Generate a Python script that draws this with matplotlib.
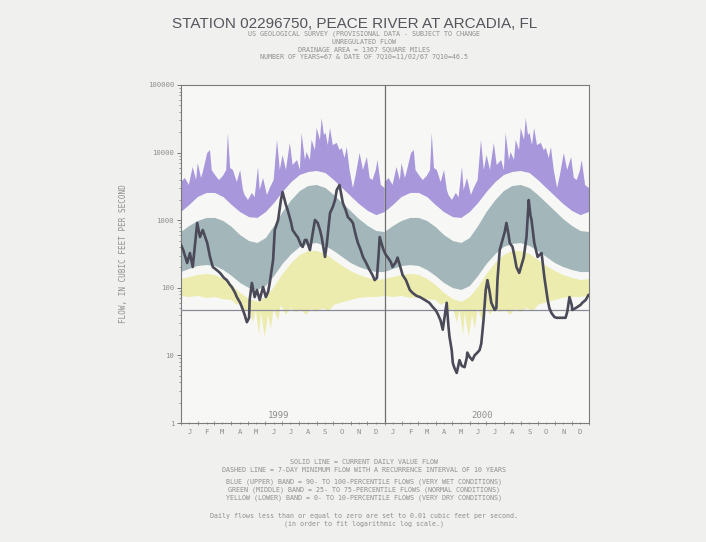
import numpy as np
import pandas as pd
import matplotlib
matplotlib.use('Agg')
import matplotlib.pyplot as plt
import matplotlib.dates as mdates
from matplotlib.ticker import LogLocator, NullFormatter

# duration-style percentile bands, day of year (same climatology drawn for each year)
clim_day = [0, 15, 30, 46, 61, 76, 91, 106, 122, 137, 152, 167, 182,
            198, 213, 228, 243, 259, 274, 289, 304, 319, 335, 350, 365]
p90 = [1320, 1680, 2200, 2530, 2530, 2200, 1680, 1320, 1110, 1080, 1320, 1800, 2610,
       3670, 4660, 5160, 5350, 4990, 3930, 2990, 2280, 1740, 1370, 1190, 1320]
p75 = [669, 821, 973, 1080, 1080, 973, 793, 604, 492, 460, 545, 821, 1320,
       1990, 2700, 3200, 3320, 2990, 2360, 1800, 1370, 1040, 821, 692, 669]
p25 = [171, 190, 210, 217, 210, 183, 150, 118, 99, 93, 106, 150, 225,
       316, 402, 445, 460, 415, 350, 286, 233, 203, 183, 171, 171]
p10 = [135, 144, 155, 160, 155, 135, 110, 84, 68, 62, 73, 103, 160,
       233, 306, 350, 350, 316, 258, 210, 177, 155, 140, 130, 135]

# daily maximum of record (top of blue band)
max_day = [0, 7, 14, 21, 27, 30, 36, 39, 47, 52, 55, 61, 68, 75, 81, 84, 88, 93, 100,
           106, 111, 114, 120, 127, 132, 138, 141, 147, 154, 159, 166, 172, 177, 182,
           188, 195, 200, 208, 213, 216, 222, 225, 231, 234, 240, 243, 249, 252, 256,
           259, 263, 267, 272, 279, 284, 288, 293, 297, 302, 308, 313, 320, 326, 333,
           338, 343, 349, 352, 358, 365]
max_flow = [3670, 4210, 3320, 6130, 3930, 7020, 4210, 5160, 9870, 10900, 5530, 4660,
            3930, 4510, 5530, 19500, 5920, 5530, 3670, 5530, 2800, 2360, 1990, 2530,
            2200, 6130, 2800, 4210, 2360, 2990, 3930, 15400, 5530, 9210, 5530, 13900,
            6550, 7780, 5530, 19500, 7780, 10200, 7780, 15400, 10900, 23100, 15400,
            32500, 18200, 19500, 12900, 23100, 12900, 13900, 10900, 11700, 8320, 12100,
            5530, 2990, 4660, 9870, 5530, 8610, 4210, 3930, 5530, 7780, 3320, 2990]

# daily minimum of record (bottom of yellow band)
min_day = [0, 14, 30, 45, 61, 75, 91, 100, 107, 114, 122, 129, 134, 140, 143, 150,
           156, 161, 166, 174, 179, 188, 197, 206, 215, 224, 233, 243, 254, 265, 274,
           286, 304, 318, 335, 349, 365]
min_flow = [76, 73, 76, 71, 73, 68, 66, 56, 60, 44, 50, 31, 47, 20, 44, 19, 40, 25, 50,
            33, 56, 40, 50, 44, 47, 40, 49, 44, 50, 45, 56, 60, 66, 71, 73, 73, 76]

# current daily flow, days since 1999-01-01
flow_day = [0, 4, 11, 16, 21, 29, 34, 39, 47, 52, 57, 64, 70, 77, 82, 88, 91, 97, 100,
            106, 109, 114, 118, 122, 123, 127, 132, 136, 141, 147, 152, 156, 159, 165,
            168, 174, 179, 182, 188, 191, 197, 200, 206, 209, 215, 218, 222, 225, 231,
            234, 240, 245, 249, 252, 258, 261, 267, 272, 276, 279, 284, 290, 295, 299,
            304, 308, 313, 317, 322, 326, 331, 338, 343, 347, 351, 354, 356, 360, 363,
            367, 370, 376, 379, 385, 388, 392, 397, 403, 410, 415, 422, 428, 437, 445,
            451, 456, 460, 465, 469, 472, 476, 479, 481, 485, 487, 490, 494, 497, 499,
            503, 508, 512, 513, 517, 522, 526, 531, 535, 538, 542, 546, 549, 553, 556,
            562, 565, 567, 571, 576, 580, 583, 587, 589, 594, 598, 601, 606, 610, 614,
            617, 619, 623, 626, 628, 633, 639, 642, 646, 651, 657, 660, 664, 669, 673,
            678, 683, 689, 692, 696, 700, 701, 707, 710, 716, 719, 725, 730]
flow = [430, 362, 233, 327, 203, 910, 564, 716, 460, 286, 203, 183, 166, 140, 130, 110,
        103, 84, 73, 60, 52, 40, 31, 36, 66, 118, 73, 93, 66, 103, 73, 87, 118, 258,
        716, 1010, 1990, 2610, 1680, 1420, 940, 716, 604, 564, 430, 402, 510, 510, 362,
        510, 1010, 910, 716, 564, 286, 430, 1280, 1570, 1990, 2800, 3320, 1800, 1420,
        1110, 1010, 910, 604, 460, 362, 286, 240, 183, 155, 130, 140, 306, 564, 430, 362,
        306, 286, 240, 203, 240, 280, 217, 155, 130, 93, 84, 76, 73, 66, 60,
        52, 47, 41, 33, 24, 36, 60, 28, 19, 12, 7.7, 6.5, 5.5, 7.2, 8.5,
        7.0, 6.7, 9.2, 11, 9.5, 8.5, 10, 11, 12, 15, 33, 93, 130, 87, 60,
        47, 50, 130, 362, 510, 669, 910, 604, 460, 402, 280, 203, 166, 217, 280,
        430, 564, 1990, 1190, 1010, 460, 286, 306, 327, 144, 66, 50, 42, 37, 36,
        36, 36, 36, 44, 73, 56, 47, 50, 52, 56, 60, 66, 78]

q7_10 = 46.5
y_ticks = [1, 10, 100, 1000, 10000, 100000]
years = ['1999', '2000']

PURPLE = '#a897da'
GREEN = '#a3b7bb'
YELLOW = '#ececae'
LINE = '#4a4a58'
TXT = '#8e8e8e'

fig = plt.figure(figsize=(7.06, 5.42), dpi=100, facecolor='#f0f0ee')
ax = fig.add_axes([181 / 706, 1 - 423 / 542, 408 / 706, 338 / 542])
ax.set_facecolor('#f7f7f5')

for yr in years:
    ys = pd.Timestamp(yr + '-01-01')
    s = (366 if ys.is_leap_year else 365) / 365
    x0 = mdates.date2num(ys)
    cx = x0 + np.array(clim_day) * s
    mx = x0 + np.array(max_day) * s
    nx = x0 + np.array(min_day) * s
    ax.fill(np.r_[mx, cx[::-1]], np.r_[max_flow, p90[::-1]], color=PURPLE, lw=0)
    ax.fill(np.r_[cx, cx[::-1]], np.r_[p75, p25[::-1]], color=GREEN, lw=0)
    ax.fill(np.r_[cx, nx[::-1]], np.r_[p10, min_flow[::-1]], color=YELLOW, lw=0)

base = mdates.date2num(pd.Timestamp('1999-01-01'))
ax.axhline(q7_10, color='#8a8a98', lw=0.9, zorder=3)
ax.axvline(mdates.date2num(pd.Timestamp('2000-01-01')), color='#6e6e6e', lw=0.9, zorder=3)
ax.plot(base + np.array(flow_day), flow, color=LINE, lw=1.9, zorder=4)

ax.set_yscale('log')
ax.set_ylim(1, 100000)
ax.set_xlim(base, mdates.date2num(pd.Timestamp('2001-01-01')))

ax.set_yticks(y_ticks)
ax.set_yticklabels([str(v) for v in y_ticks], family='DejaVu Sans Mono', fontsize=5.2, color=TXT)
ax.yaxis.set_minor_locator(LogLocator(base=10, subs=np.arange(2, 10)))
ax.yaxis.set_minor_formatter(NullFormatter())
ax.tick_params(axis='y', which='major', length=3, width=0.7, color='#777777', pad=2)
ax.tick_params(axis='y', which='minor', length=1.5, width=0.6, color='#888888')

months = pd.date_range('1999-01-01', '2001-01-01', freq='MS')
mids = months[:-1] + pd.Timedelta(days=15)
ax.set_xticks(mdates.date2num(mids))
ax.set_xticklabels([m.strftime('%b')[0] for m in mids], family='DejaVu Sans Mono',
                   fontsize=5.2, color=TXT)
ax.set_xticks(mdates.date2num(months), minor=True)
ax.tick_params(axis='x', which='major', length=2, width=0.6, color='#888888', pad=3,
               direction='inout')
ax.tick_params(axis='x', which='minor', length=3, width=0.6, color='#888888',
               direction='inout')

for sp in ax.spines.values():
    sp.set_color('#7a7a7a')
    sp.set_linewidth(0.8)

for yr, d in zip(years, [175, 540]):
    ax.text(base + d, 1.28, yr, ha='center', va='center', family='DejaVu Sans Mono',
            fontsize=6.5, color=TXT)

ax.set_ylabel('FLOW, IN CUBIC FEET PER SECOND', family='DejaVu Sans Mono', fontsize=5.5,
              color=TXT, labelpad=14)


def ftext(y, s, size=4.8, x=0.515):
    fig.text(x, 1 - y / 542, s, ha='center', va='center', fontsize=size, color=TXT,
             family='DejaVu Sans Mono')


fig.text(0.503, 1 - 24 / 542, 'STATION 02296750, PEACE RIVER AT ARCADIA, FL',
         ha='center', va='center', fontsize=11, color='#55555e',
         family='Liberation Sans')
ftext(34, 'US GEOLOGICAL SURVEY (PROVISIONAL DATA - SUBJECT TO CHANGE')
ftext(41.8, 'UNREGULATED FLOW')
ftext(49.6, 'DRAINAGE AREA = 1367 SQUARE MILES')
ftext(57.4, 'NUMBER OF YEARS=67 & DATE OF 7Q10=11/02/67 7Q10=46.5')

ftext(462, 'SOLID LINE = CURRENT DAILY VALUE FLOW')
ftext(470, 'DASHED LINE = 7-DAY MINIMUM FLOW WITH A RECURRENCE INTERVAL OF 10 YEARS')
ftext(482, 'BLUE (UPPER) BAND = 90- TO 100-PERCENTILE FLOWS (VERY WET CONDITIONS)')
ftext(490, 'GREEN (MIDDLE) BAND = 25- TO 75-PERCENTILE FLOWS (NORMAL CONDITIONS)')
ftext(498, 'YELLOW (LOWER) BAND = 0- TO 10-PERCENTILE FLOWS (VERY DRY CONDITIONS)')
ftext(516, 'Daily flows less than or equal to zero are set to 0.01 cubic feet per second.')
ftext(524, '(in order to fit logarithmic log scale.)')

fig.savefig('out.png', dpi=100, facecolor=fig.get_facecolor())
